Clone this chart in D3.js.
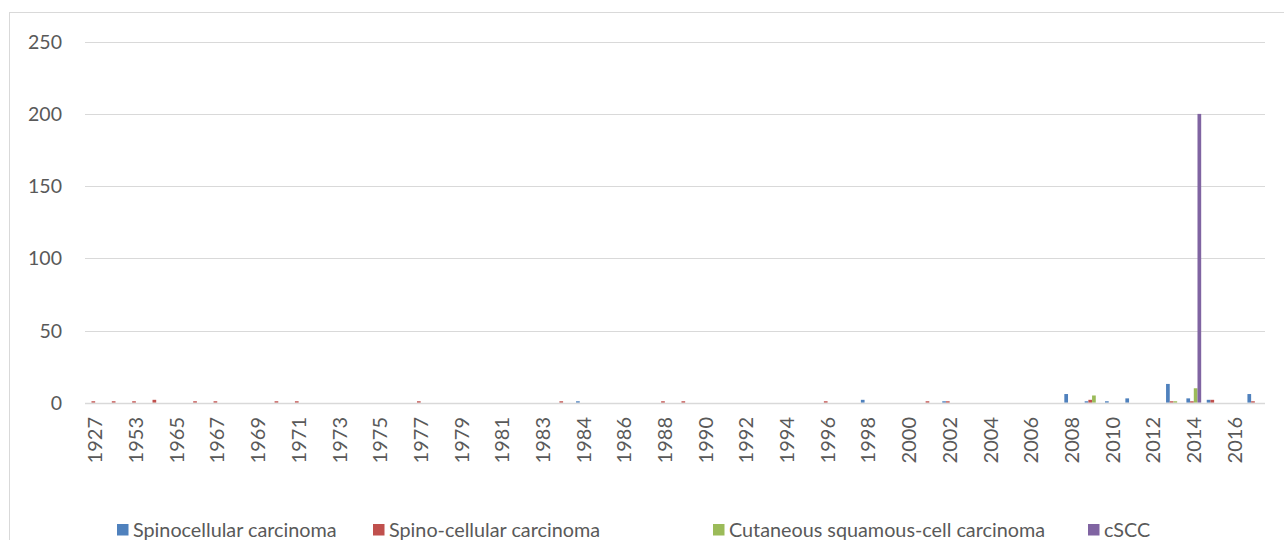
<!DOCTYPE html>
<html>
<head>
<meta charset="utf-8">
<script src="https://cdnjs.cloudflare.com/ajax/libs/d3/7.8.5/d3.min.js"></script>
<style>
  body { margin: 0; background: #fff; }
  text { font-family: Lato, "Open Sans", sans-serif; fill: #595959; }
</style>
</head>
<body>
<script>
// categories as they appear on the axis (only every other one is labelled)
var years = ["1927","1952","1953","1964","1965","1966","1967","1968","1969","1970",
  "1971","1972","1973","1974","1975","1976","1977","1978","1979","1980",
  "1981","1982","1983","1983","1984","1985","1986","1987","1988","1989",
  "1990","1991","1992","1993","1994","1995","1996","1997","1998","1999",
  "2000","2001","2002","2003","2004","2005","2006","2007","2008","2009",
  "2010","2011","2012","2013","2014","2015","2016","2017"];

var seriesNames = ["Spinocellular carcinoma", "Spino-cellular carcinoma",
  "Cutaneous squamous-cell carcinoma", "cSCC"];
var colors = ["#4F81BD", "#C0504D", "#9BBB59", "#8064A2"];

var spinocellular = [0,0,0,0,0,0,0,0,0,0, 0,0,0,0,0,0,0,0,0,0,
  0,0,0,0,1,0,0,0,0,0, 0,0,0,0,0,0,0,0,2,0,
  0,0,1,0,0,0,0,0,6,1, 1,3,0,13,3,2,0,6];
var spinoCellular = [1,1,1,2,0,1,1,0,0,1, 1,0,0,0,0,0,1,0,0,0,
  0,0,0,1,0,0,0,0,1,1, 0,0,0,0,0,0,1,0,0,0,
  0,1,1,0,0,0,0,0,0,2, 0,0,0,1,1,2,0,1];
var cutaneous = [0,0,0,0,0,0,0,0,0,0, 0,0,0,0,0,0,0,0,0,0,
  0,0,0,0,0,0,0,0,0,0, 0,0,0,0,0,0,0,0,0,0,
  0,0,0,0,0,0,0,0,0,5, 0,0,0,1,10,0,0,0];
var cscc = [0,0,0,0,0,0,0,0,0,0, 0,0,0,0,0,0,0,0,0,0,
  0,0,0,0,0,0,0,0,0,0, 0,0,0,0,0,0,0,0,0,0,
  0,0,0,0,0,0,0,0,0,0, 0,0,0,0,200,0,0,0];

var yTicks = [0, 50, 100, 150, 200, 250];

var allSeries = [spinocellular, spinoCellular, cutaneous, cscc];

var width = 1284, height = 540;
var margin = { top: 41.7, right: 19, bottom: 137.3, left: 85 };

var svg = d3.select("body").append("svg")
    .attr("width", width)
    .attr("height", height);

svg.append("rect")
    .attr("width", width)
    .attr("height", height)
    .attr("fill", "#fff");

// chart frame
svg.append("rect")
    .attr("x", 9.5)
    .attr("y", 12.5)
    .attr("width", width + 20)
    .attr("height", height + 20)
    .attr("fill", "none")
    .attr("stroke", "#d9d9d9")
    .attr("stroke-width", 1);

var x0 = d3.scaleBand()
    .domain(d3.range(years.length))
    .range([margin.left, width - margin.right])
    .padding(0);

var y = d3.scaleLinear()
    .domain([0, 250])
    .range([height - margin.bottom, margin.top]);

// Excel gap width 150%
var barW = x0.bandwidth() / (seriesNames.length + 1.5);
var x1 = d3.scaleBand()
    .domain(d3.range(seriesNames.length))
    .range([0, barW * seriesNames.length]);
var groupOffset = (x0.bandwidth() - barW * seriesNames.length) / 2;

// gridlines
svg.append("g")
  .selectAll("line")
  .data(yTicks.filter(function(d) { return d > 0; }))
  .enter().append("line")
    .attr("x1", margin.left)
    .attr("x2", width - margin.right)
    .attr("y1", function(d) { return Math.round(y(d)) + 0.5; })
    .attr("y2", function(d) { return Math.round(y(d)) + 0.5; })
    .attr("stroke", "#d9d9d9")
    .attr("stroke-width", 1);

// y labels
svg.append("g")
  .selectAll("text")
  .data(yTicks)
  .enter().append("text")
    .attr("x", 62)
    .attr("y", function(d) { return y(d); })
    .attr("dy", "0.36em")
    .attr("text-anchor", "end")
    .style("font-size", "19.5px")
    .text(function(d) { return d; });

// bars
var bars = [];
allSeries.forEach(function(vals, s) {
  vals.forEach(function(v, i) {
    if (v > 0) bars.push({ s: s, i: i, v: v });
  });
});

svg.append("g")
  .selectAll("rect")
  .data(bars)
  .enter().append("rect")
    .attr("x", function(d) { return x0(d.i) + groupOffset + x1(d.s); })
    .attr("width", x1.bandwidth())
    .attr("y", function(d) { return y(d.v); })
    .attr("height", function(d) { return y(0) - y(d.v); })
    .attr("fill", function(d) { return colors[d.s]; });

// x axis line
svg.append("line")
    .attr("x1", margin.left)
    .attr("x2", width - margin.right)
    .attr("y1", y(0) + 0.8)
    .attr("y2", y(0) + 0.8)
    .attr("stroke", "#d9d9d9")
    .attr("stroke-width", 1.5);

// x labels, every other category
svg.append("g")
  .selectAll("text")
  .data(d3.range(0, years.length, 2))
  .enter().append("text")
    .attr("transform", function(i) {
      return "translate(" + (x0(i) + x0.bandwidth() / 2) + "," + 417 + ") rotate(-90)";
    })
    .attr("dy", "0.36em")
    .attr("text-anchor", "end")
    .style("font-size", "20px")
    .text(function(i) { return years[i]; });

// legend
var legendX = [117, 373, 713, 1088];
var legend = svg.append("g")
  .selectAll("g")
  .data(seriesNames)
  .enter().append("g")
    .attr("transform", function(d, i) { return "translate(" + legendX[i] + ",0)"; });

legend.append("rect")
    .attr("y", 524)
    .attr("width", 11.5)
    .attr("height", 11.5)
    .attr("fill", function(d, i) { return colors[i]; });

legend.append("text")
    .attr("x", 16)
    .attr("y", 536.5)
    .style("font-size", "19.8px")
    .text(function(d) { return d; });
</script>
</body>
</html>
